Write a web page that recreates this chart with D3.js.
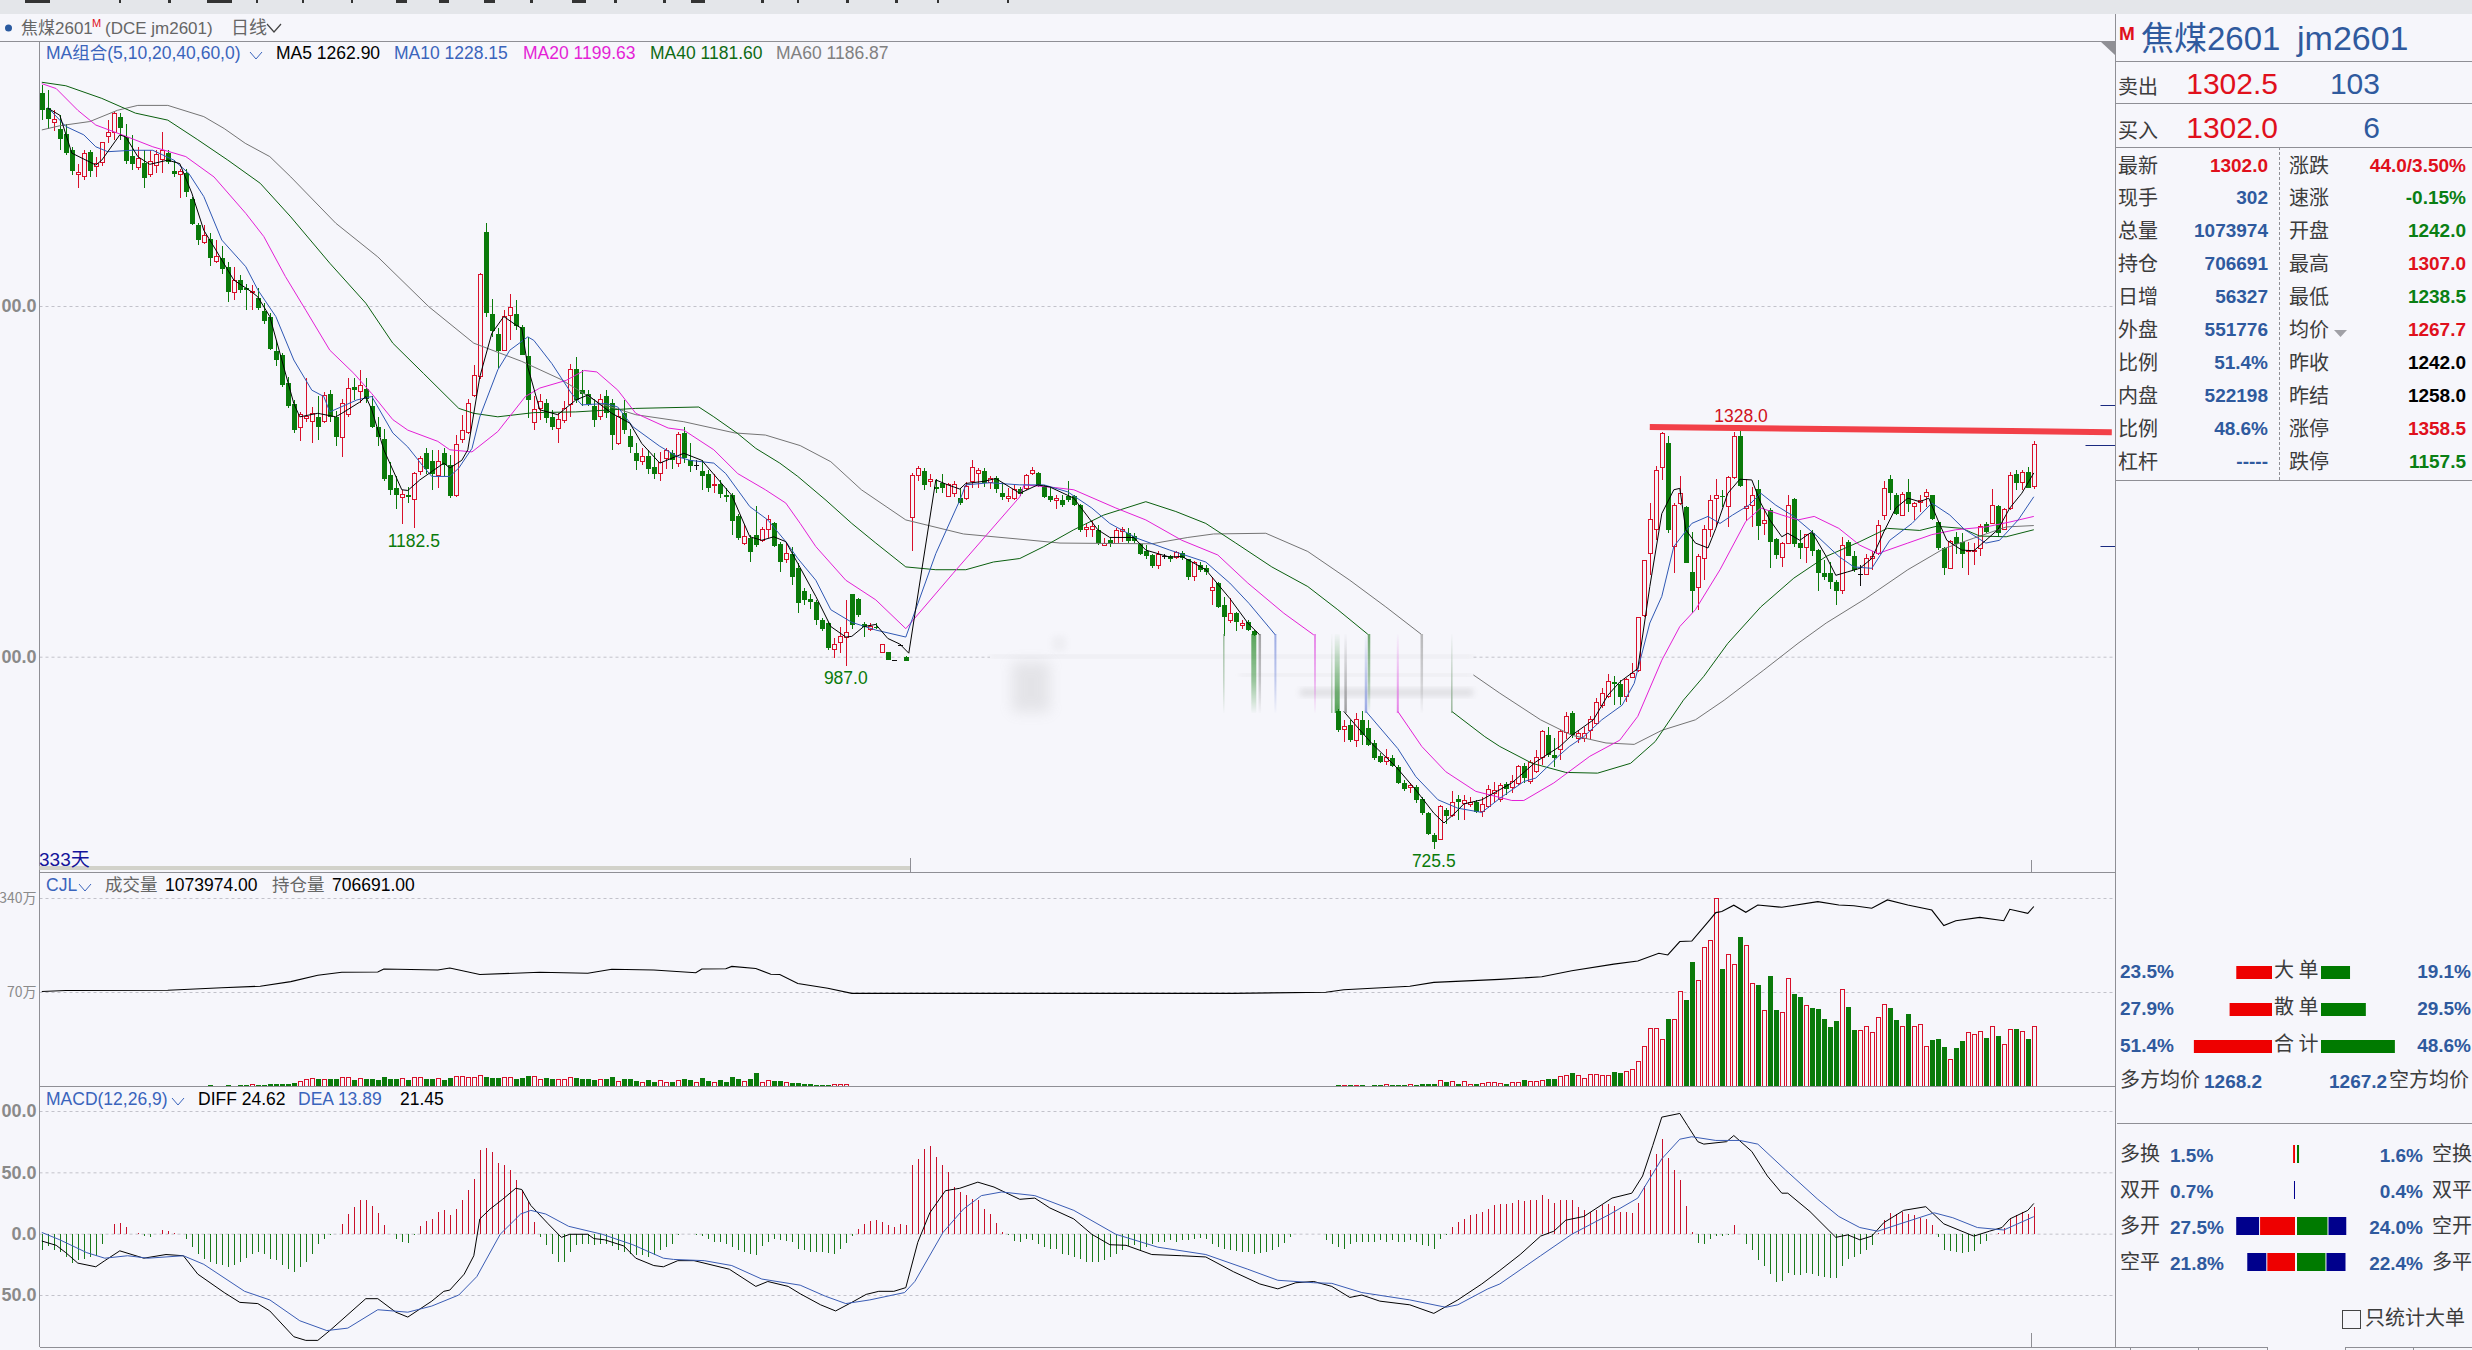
<!DOCTYPE html>
<html lang="en">
<head>
    <meta charset="utf-8">
    <title>焦煤2601 日线</title>
    <script src="https://d3js.org/d3.v7.min.js"></script>
    <style>
        html, body { margin: 0; padding: 0; background: #f6f6fb; overflow: hidden; }
        svg { display: block; }
        text { font-family: "Liberation Sans", "Noto Sans CJK SC", sans-serif; }
        .cjk { font-family: "Noto Sans CJK SC", sans-serif; fill: #3c3c3c; font-size: 20px; }
        .num { font-weight: bold; font-size: 19px; }
        .tick line { stroke: #c2c2ca; stroke-dasharray: 3,3; }
        .tick text { fill: #8a8a8a; font-size: 18px; font-weight: bold; }
        .vol-axis .tick text { font-size: 14px; font-weight: normal; font-family: "Noto Sans CJK SC", sans-serif; }
    </style>
</head>
<body>
    <svg id="chart" width="2472" height="1350"></svg>
    <script>
        // Candles: [open, high, low, close]. Two runs, the blurred part has none.
        const ohlcA = [
            [1803,1815,1765,1779],[1783,1808,1753,1767],[1761,1780,1749,1766],[1753,1772,1722,1738],[1745,1760,1715,1718],
            [1723,1727,1687,1693],[1687,1703,1668,1691],[1684,1722,1680,1718],[1719,1722,1684,1692],[1699,1713,1684,1703],
            [1704,1734,1699,1733],[1742,1765,1732,1748],[1748,1777,1737,1775],[1769,1775,1737,1754],[1741,1760,1703,1707],
            [1714,1744,1694,1703],[1697,1727,1694,1710],[1704,1722,1668,1682],[1687,1722,1684,1706],[1701,1722,1689,1716],
            [1709,1748,1689,1722],[1718,1722,1703,1706],[1692,1708,1684,1688],[1688,1696,1654,1692],[1689,1696,1656,1662],
            [1653,1656,1615,1617],[1615,1618,1587,1594],[1591,1616,1589,1600],[1595,1604,1557,1569],[1563,1594,1561,1570],
            [1569,1585,1546,1553],[1555,1563,1506,1520],[1519,1556,1509,1536],[1537,1544,1518,1523],[1525,1532,1494,1523],
            [1519,1530,1494,1521],[1512,1525,1494,1497],[1493,1504,1475,1479],[1484,1490,1437,1439],[1436,1451,1414,1423],
            [1430,1433,1385,1388],[1390,1399,1354,1358],[1360,1366,1319,1323],[1327,1349,1307,1345],[1340,1397,1335,1343],
            [1336,1356,1304,1347],[1342,1371,1309,1327],[1335,1378,1333,1373],[1375,1380,1335,1342],[1342,1351,1300,1313],
            [1313,1368,1285,1361],[1345,1397,1342,1383],[1384,1397,1366,1380],[1378,1409,1361,1386],[1381,1397,1361,1368],
            [1357,1371,1326,1327],[1327,1342,1300,1313],[1310,1325,1250,1254],[1259,1278,1230,1238],[1241,1257,1210,1230],
            [1227,1238,1189,1231],[1230,1242,1219,1227],[1224,1264,1183,1261],[1264,1286,1259,1283],[1290,1297,1261,1267],
            [1279,1295,1238,1261],[1259,1294,1240,1278],[1291,1297,1257,1273],[1274,1288,1226,1229],[1230,1316,1228,1303],
            [1309,1345,1305,1323],[1320,1368,1318,1361],[1372,1416,1370,1401],[1400,1547,1396,1545],[1605,1619,1485,1490],
            [1489,1510,1456,1465],[1460,1468,1411,1436],[1436,1494,1436,1485],[1487,1517,1451,1498],[1489,1508,1466,1471],
            [1470,1473,1430,1430],[1429,1456,1340,1366],[1334,1371,1323,1352],[1354,1375,1337,1364],[1362,1368,1333,1340],
            [1342,1352,1323,1328],[1326,1347,1304,1338],[1337,1364,1333,1354],[1360,1417,1342,1410],[1410,1427,1361,1366],
            [1380,1409,1358,1375],[1374,1380,1357,1360],[1357,1368,1328,1337],[1342,1375,1337,1366],[1371,1380,1340,1347],
            [1361,1368,1295,1316],[1304,1354,1302,1342],[1348,1366,1318,1323],[1314,1325,1290,1299],[1290,1304,1266,1279],
            [1279,1297,1273,1285],[1286,1295,1261,1267],[1270,1290,1254,1260],[1261,1292,1251,1277],[1283,1297,1268,1294],
            [1291,1294,1268,1281],[1276,1321,1271,1317],[1319,1328,1276,1283],[1281,1304,1264,1272],[1273,1280,1266,1273],
            [1265,1280,1238,1258],[1261,1266,1235,1240],[1244,1261,1233,1246],[1246,1252,1226,1232],[1231,1240,1221,1227],
            [1230,1233,1173,1194],[1200,1204,1166,1169],[1161,1188,1159,1171],[1169,1173,1135,1149],[1173,1215,1157,1159],
            [1166,1185,1164,1181],[1181,1202,1169,1195],[1190,1192,1157,1158],[1161,1164,1121,1135],[1139,1164,1133,1147],
            [1146,1157,1102,1114],[1126,1133,1062,1077],[1094,1098,1074,1081],[1082,1090,1068,1078],[1078,1081,1045,1052],
            [1053,1055,1036,1040],[1048,1050,1010,1012],[1010,1026,998,1017],[1020,1043,1005,1029],[1027,1081,987,1035],
            [1090,1090,1040,1045],[1082,1083,1057,1059],[1046,1050,1028,1043],[1039,1048,1036,1043],[1043,1048,1039,1041],
            [1006,1018,1006,1018],[1006,1007,995,996],[995,995.5,994.5,995],[1017,1017.5,1016.5,1017],[1000,1001,994,994],
            [1199,1262,1150,1259],[1258,1272,1251,1268],[1265,1269,1238,1245],[1250,1261,1242,1253],[1242,1254,1233,1239],
            [1248,1260,1233,1240],[1229,1247,1229,1245],[1233,1250,1228,1246],[1226,1240,1216,1219],[1226,1249,1223,1242],
            [1250,1280,1240,1270],[1261,1269,1240,1265],[1265,1269,1242,1248],[1248,1257,1239,1254],[1255,1257,1233,1239],
            [1234,1247,1223,1227],[1225,1240,1221,1229],[1225,1245,1223,1239],[1239,1242,1229,1232],[1240,1261,1238,1258],
            [1261,1270,1259,1266],[1262,1264,1242,1243],[1243,1245,1226,1228],[1229,1240,1221,1223],[1223,1230,1210,1226],
            [1224,1230,1214,1216],[1229,1250,1221,1223],[1229,1231,1215,1216],[1216,1218,1178,1181],[1181,1190,1171,1184],
            [1182,1193,1171,1185],[1181,1188,1159,1162],[1159,1169,1158,1161],[1166,1169,1156,1162],[1162,1183,1161,1180],
            [1178,1185,1164,1182],[1177,1183,1162,1165],[1172,1176,1162,1165],[1161,1162,1145,1146],[1151,1159,1140,1143],
            [1145,1147,1127,1130],[1130,1150,1125,1145],[1143,1147,1139,1143],[1143,1145,1135,1140],[1142,1150,1140,1148],
            [1148,1150,1138,1141],[1139,1140,1109,1114],[1114,1137,1108,1134],[1131,1135,1121,1124],[1127,1131,1116,1121],
            [1094,1114,1074,1099],[1105,1107,1069,1071],[1074,1085,1029,1057],[1051,1083,1048,1062],[1062,1064,1036,1050],
            [1045,1052,1039,1047],[1049,1052,1036,1038],[1036,1038,1030,1031]
        ];
        const ohlcB = [
            [922,925,893,895],[896,910,879,901],[903,910,879,881],[881,920,871,911],[910,922,874,888],
            [899,910,873,874],[877,881,853,855],[858,862,849,850],[850,869,846,856],[856,860,843,844],
            [843,846,819,820],[820,824,808,812],[814,820,806,816],[814,817,792,795],[797,800,774,777],
            [777,779,746,747],[746,748,725.5,736],[739,789,738,787],[781,784,762,773],[774,808,772,792],
            [797,803,767,793],[790,803,767,795],[789,800,786,792],[793,796,777,778],[780,800,772,789],
            [786,817,784,811],[805,822,791,809],[796,820,793,816],[818,822,803,812],[814,831,805,822],
            [819,845,817,844],[844,848,820,827],[822,853,819,849],[836,867,834,856],[856,896,846,893],
            [888,900,857,860],[860,884,843,855],[867,896,853,893],[892,921,883,915],[920,922,884,888],
            [884,896,877,891],[884,900,879,891],[895,915,881,911],[905,941,903,934],[930,955,927,947],
            [943,975,941,964],[964,972,931,961],[961,967,931,943],[943,969,936,968],[971,991,969,976],
            [981,1057,978,1056],[1059,1138,1057,1137],[1147,1219,1116,1196],[1181,1272,1166,1265],[1270,1320,1252,1318],
            [1304,1315,1176,1180],[1157,1219,1119,1215],[1218,1258,1216,1233],[1213,1215,1133,1134],[1121,1178,1062,1093],
            [1099,1146,1067,1143],[1140,1188,1109,1182],[1182,1231,1171,1222],[1226,1254,1185,1230],[1229,1238,1214,1227],
            [1214,1257,1185,1256],[1256,1321,1254,1314],[1314,1328,1242,1243],[1212,1254,1193,1214],[1216,1242,1185,1230],
            [1239,1252,1166,1186],[1190,1209,1173,1194],[1209,1212,1126,1163],[1168,1169,1140,1145],[1141,1164,1128,1162],
            [1162,1231,1162,1215],[1225,1226,1157,1160],[1162,1181,1140,1155],[1155,1174,1133,1174],[1177,1181,1143,1151],
            [1152,1154,1094,1119],[1120,1138,1109,1113],[1120,1135,1097,1107],[1106,1109,1074,1094],[1094,1171,1090,1158],
            [1163,1166,1143,1144],[1143,1151,1121,1124],[1118,1131,1101,1118],[1117,1147,1116,1140],[1140,1150,1124,1143],
            [1147,1195,1145,1187],[1201,1250,1195,1240],[1254,1259,1209,1233],[1230,1233,1202,1204],[1202,1235,1200,1231],
            [1235,1253,1207,1218],[1214,1221,1195,1218],[1220,1231,1207,1223],[1229,1239,1214,1234],[1230,1231,1195,1196],
            [1192,1194,1152,1155],[1155,1157,1116,1126],[1126,1167,1125,1164],[1170,1178,1147,1160],[1163,1176,1126,1146],
            [1150,1163,1116,1152],[1150,1162,1131,1152],[1154,1189,1143,1186],[1189,1192,1176,1178],[1190,1239,1189,1215],
            [1215,1216,1171,1177],[1181,1212,1180,1210],[1211,1264,1209,1259],[1261,1266,1238,1248],[1249,1266,1238,1262],
            [1264,1271,1240,1241],[1242,1307,1238.5,1302]
        ];
        const ohlcStartA = 0, ohlcStartB = 216;

        // Moving averages, [bar, price] knots, null is the break at the blurred part
        const ma5 = [[1,1782],[3,1772],[5,1718],[9,1701],[10,1708],[13,1744],[14,1741],[16,1713],[18,1702],[21,1708],[23,1703],[25,1661],[27,1608],[29,1580],[32,1537],[35,1520],[36,1513],[38,1485],[40,1423],[42,1361],[43,1342],[46,1347],[49,1342],[50,1347],[53,1363],[54,1371],[55,1352],[57,1295],[58,1276],[60,1238],[61,1237],[63,1252],[65,1264],[67,1276],[68,1269],[70,1280],[71,1295],[73,1399],[75,1461],[77,1485],[79,1473],[80,1468],[81,1413],[83,1352],[86,1345],[89,1366],[91,1373],[95,1347],[98,1333],[100,1304],[103,1276],[107,1290],[110,1280],[115,1230],[118,1171],[120,1166],[122,1171],[124,1164],[126,1133],[129,1086],[131.5,1043],[134,1028],[135,1029],[137,1043],[139,1046],[141,1026],[143,1018],[144.5,1005],[149,1252],[151,1245],[153,1239],[154,1247],[157,1250],[159,1254],[163,1233],[166,1245],[168,1242],[172,1226],[176,1181],[178,1170],[182,1170],[184,1152],[188,1142],[190,1143],[194,1124],[198,1083],[201,1048],[203,1031],null,[217,922],[218.7,905],[221.7,876],[225.7,843],[229,810],[232,777],[233.7,763],[235.5,777],[237,790],[240,796],[245,820],[249,850],[253,872],[255,888],[258.6,910],[261,945],[263,964],[266,983],[268,1100],[270,1204],[272,1238],[273,1240],[274,1181],[275.6,1162],[277.7,1155],[279,1183],[281,1233],[283,1253],[285,1252],[286.5,1219],[288,1195],[290,1171],[291,1176],[293,1166],[295,1178],[297.4,1143],[299,1116],[301,1121],[303,1126],[305,1140],[307,1178],[309,1212],[311,1226],[313,1221],[314.5,1226],[316,1195],[317.5,1166],[320,1152],[322,1151],[324,1166],[326,1181],[328,1212],[330,1233],[332,1262]];
        const ma10 = [[1,1783],[4,1756],[7,1744],[9,1727],[11,1720],[15,1722],[18.5,1722],[22,1708],[24.5,1689],[27,1656],[30,1594],[34,1556],[36,1523],[39,1485],[42,1423],[45,1380],[47,1371],[48,1349],[52.5,1366],[55,1371],[58.5,1319],[61,1299],[63.6,1271],[65,1257],[68,1257],[69.5,1269],[71.7,1297],[73,1342],[76,1409],[78,1437],[81,1456],[82,1451],[85,1418],[88.3,1375],[90,1359],[94,1361],[96,1356],[98.5,1328],[103,1300],[106,1285],[108,1280],[112,1276],[114,1261],[118,1214],[121,1195],[124,1164],[126,1140],[129,1109],[131.5,1067],[135,1049],[139,1038],[144,1028],[149,1147],[153,1223],[154,1245],[158,1248],[163,1245],[167,1245],[171,1235],[175,1212],[178,1190],[182.5,1169],[188,1152],[194,1135],[198,1105],[201.2,1076],[205.6,1031],null,[220.7,922],[226,869],[229,829],[232.7,796],[236,784],[240,778],[243,798],[247,822],[249,827],[253,860],[254.6,872],[257,886],[260,910],[263.4,931],[265.4,962],[268,1048],[270,1086],[272,1157],[275,1190],[277.7,1200],[279.7,1190],[281.8,1202],[284.5,1216],[286.5,1233],[289,1216],[292,1200],[296,1171],[299.5,1143],[302,1128],[305,1126],[308,1166],[311.7,1190],[315,1219],[318,1202],[320.5,1181],[324,1162],[326.3,1166],[329.4,1195],[332,1228]];
        const ma20 = [[0,1817],[2.4,1810],[6,1779],[9,1758],[13.4,1744],[18.5,1727],[24,1713],[28.7,1684],[34,1632],[37,1599],[40.6,1542],[44,1494],[48,1437],[52,1404],[55,1375],[58.5,1338],[61,1323],[66,1307],[68,1295],[71.7,1292],[76,1321],[80.6,1371],[83,1383],[87.4,1394],[90.4,1408],[92.5,1406],[96,1380],[99,1347],[104.4,1326],[107,1323],[112,1295],[116,1261],[120.6,1238],[124,1219],[126.4,1190],[129,1157],[134,1109],[139,1081],[144,1040],[151.9,1119],[163,1228],[163.7,1245],[169,1241],[172,1238],[179,1212],[184,1195],[190,1166],[196,1145],[201,1105],[207,1062],[212,1031],null,[226,922],[230,872],[234,836],[239,808],[245,795],[247,795],[252,820],[258,858],[263,881],[266,915],[270,995],[273,1043],[275.6,1067],[279.7,1124],[284,1193],[286.5,1212],[290,1202],[292.7,1195],[295.4,1200],[299.5,1183],[303,1159],[306,1147],[311,1162],[315,1174],[319,1181],[324,1185],[328,1192],[332,1200]];
        const ma40 = [[0,1819],[4,1814],[10,1796],[15.6,1775],[21,1765],[26,1737],[31,1708],[36.4,1675],[41.5,1627],[48,1561],[54,1504],[58.5,1447],[63.6,1404],[69.5,1354],[72,1347],[76,1342],[82,1348],[89,1349],[99,1354],[109.5,1356],[112,1342],[116,1318],[119,1297],[123,1276],[126,1257],[130.7,1223],[135,1190],[139,1162],[144,1128],[149,1124],[154,1124],[158.6,1135],[163,1140],[167,1157],[172,1181],[177,1202],[184,1221],[189,1207],[194,1190],[199,1162],[205,1128],[211,1100],[216,1067],[221,1032],null,[235,922],[240.5,886],[243,872],[248.4,848],[254,835],[259.3,834],[264.8,848],[268.9,879],[273.6,938],[277,972],[281,1019],[286.5,1071],[292,1112],[297.4,1143],[303,1164],[307.6,1183],[313,1180],[315.8,1186],[320,1183],[323,1172],[327.4,1171],[332,1181]];
        const ma60 = [[0,1751],[3,1757],[8,1763],[12.6,1779],[16,1786],[21,1786],[27,1770],[30.4,1753],[33.9,1732],[38,1713],[41.5,1684],[49,1618],[56,1570],[64.5,1499],[72,1447],[80,1421],[86.6,1395],[93,1361],[99,1345],[107,1335],[115.5,1319],[120.6,1316],[126.4,1301],[131.5,1278],[136.6,1238],[144,1195],[153.6,1175],[163.7,1167],[169.7,1162],[185,1161],[191,1170],[195.3,1175],[204,1176],[211,1150],[218,1109],[224,1071],[229.9,1032],null,[238.6,974],[243,948],[249.8,910],[255,888],[260.7,877],[265.4,875],[270,895],[275.6,910],[280.4,938],[287,981],[292.7,1019],[297.4,1048],[304,1083],[311,1124],[317,1154],[322,1169],[327.4,1185],[332,1187]];

        // Volume in 10k lots, by bar from the given start
        const volStartA = 28;
        const volumeA = [2,0,0,2,0,2,2,2.4,2.4,2.4,3,3.6,3.6,4.2,6,8,11,13,13,12,12,13,16,15,11,13,13,13,10,16,13,13,13,11,16,15,12,12,13,11,15,18,17,16,16,19,17,15,15,15,16,13,15,18,17,12,15,12,12,12,15,15,12,13,10,12,13,17,9,13,13,8.5,6,10,7,10,7,7,10,13,11,6,15,9,7,11,7,17,13,8.5,12,23,7,10,8.5,8.5,7,6,6,3.6,3,2.4,2.4,2.4,2.4,2.4,2];
        const volStartB = 216;
        const volumeB = [1.8,1.8,1.8,1.8,1.8,0.6,2,2,2,2,2,2.2,2.2,2.4,3,3.6,4.2,10,8,7.3,3.6,7.3,3.6,4.2,5,5.5,5.5,4.2,3.6,5.5,5.5,10.9,8.5,7.3,10.3,13.4,13.4,17,18.2,24.3,18.2,13.4,20,20,18.8,18.2,25.5,23,25.5,29,43.7,71.6,104.4,104.4,85,121.4,119.6,170.6,154.8,223.4,191.2,250.7,263.4,338.7,211.2,238,219.7,269.5,254.3,185,182,136,198.5,136.6,132.3,194.2,165.7,160.2,145,140.2,138.4,122,107.4,118.4,174.2,142,102,99.5,106.8,96,123.2,146.9,140.2,120.2,106.8,131,106.8,110.5,72.2,83.8,85.6,71,48.6,69.2,82,95.9,92.3,97.7,87.4,106.8,91,75.9,101.4,103.8,97.7,85.6,107.4];

        // Open interest line in 10k lots
        const openInterest = [[0,37.2],[4,37.6],[21,37.7],[30,38.7],[36.4,39.3],[41.5,41.1],[46,43.6],[50,44.8],[56,44.9],[57,46.1],[66,45.7],[68,46.5],[73,43.9],[83,44.8],[91,44.4],[95,46],[102,45.7],[109,44.6],[110,46.1],[114,46.2],[115,47.1],[119,46.3],[121.5,44],[123,43.9],[126,40.4],[131,38.5],[135,36.5],[198.6,36.5],[214,36.9],[217,37.9],[228,39.3],[232,40.8],[243,42],[250,43],[255,45.4],[262,48],[266,49.2],[269.5,52.3],[271,51.6],[273,56.9],[275,57.1],[278,65.4],[279,68.3],[280,68.7],[282,71.2],[284,68.4],[286,71.3],[290,70.4],[296,72.6],[299.5,71.3],[302,71],[305,70],[307.6,73.3],[311,71.3],[315,69.3],[317,63.2],[319,65.1],[323,66.4],[327,65.1],[328,69.6],[331,68],[332,70.7]];

        // MACD bars, one per bar
        const macdBars = [-13,-10.3,-13,-15,-19,-24,-21.8,-20.4,-19,-18.5,-8.7,0,8.2,8.7,5.4,0,0.8,-1.6,-2.7,-0.5,2.7,2.2,0.8,0,-4.1,-10.9,-16.9,-20.4,-23.1,-25,-25.8,-27.2,-25.8,-23.1,-19.6,-16.3,-15,-16.3,-20.4,-21.8,-25.8,-28.6,-31.3,-27.2,-23.1,-16.3,-8.2,-4.1,-0.8,0,8.2,16.3,21.8,27.2,27.7,22.3,16.9,6.8,-0.5,-4.1,-6.8,-7.6,-1.4,6,10.3,12.2,17.7,19,15,20.4,27.2,35.4,44.9,68,70.2,66.6,57.7,55.8,51.7,43.5,35.4,25.8,9.5,-2.7,-9.5,-16.3,-23.1,-23.1,-15,-9.5,-8.2,-8.2,-9.5,-8.2,-8.7,-10.3,-13.6,-15,-16.3,-17.7,-17.7,-19,-17.7,-13.6,-10.9,-8.2,-1.1,-0.5,-0.5,-0.8,-2.2,-4.1,-6.8,-6.8,-8.2,-10.9,-13.6,-15,-16.9,-17.7,-10.3,-6.8,-4.1,-5.4,-6,-6.8,-12.2,-13.6,-15,-15,-15,-15.8,-16.9,-12.2,-7.6,-2.2,4.1,7.6,10.3,11.4,9.5,6.8,5.4,7.6,6.8,55.8,61.2,69.4,71.3,62.6,55.8,50.3,38.1,34,31.3,28.6,27.2,20.4,15.8,8.7,1.4,-0.8,-6,-6.8,-4.1,-5.4,-8.2,-10.9,-12.8,-12.2,-16.3,-17.7,-19,-20.4,-23.1,-23.1,-23.1,-21.8,-19,-16.3,-13.1,-10.3,-9.5,-13.6,-10.9,-8.2,-6.8,-6.8,-5.4,-6.8,-4.9,-5.4,-4.1,-3.3,-4.1,-8.2,-10.9,-12.8,-13.6,-14.1,-15,-15,-16.3,-15.8,-15,-13.6,-10.9,-7.6,-2.7,-0.5,-0.5,-0.5,-0.3,-0.3,-5.4,-8.2,-10.9,-12.2,-8.2,-6.8,-6.8,-6.8,-6.8,-5.4,-6.8,-5.4,-6.8,-6.8,-5.4,-6.8,-9.5,-10.3,-12.2,-4.1,-1.4,5.4,9.5,12.2,15,15.8,17.7,20.4,23.1,24.5,23.9,25,27.2,26.7,27.2,27.2,31.3,28.6,25,27.2,27.7,27.2,21.8,19.6,17.7,19,23.1,23.9,22.3,17.7,17.7,16.9,25,38.9,51.7,65.3,77,62,51.7,43.5,22.3,1.1,-7.6,-8.2,-4.1,-2.2,-1.6,-0.8,6.8,-0.5,-8.2,-13.1,-21.8,-26.7,-33.2,-39.4,-38.9,-32.1,-34,-34,-32.1,-33.2,-34.8,-35.4,-36.2,-36.2,-26.7,-20.4,-19,-16.9,-13.1,-9.5,0.8,10.9,16.9,15.8,17.7,15.8,15,13.1,12.2,6.8,-2.7,-13.6,-14.4,-15,-15.8,-15,-14.1,-8.7,-6,-0.5,0.5,4.9,12.2,15,17.7,16.3,21.45];
        const diffLine = [[0,-6],[2.4,-9.5],[4,-15.5],[6,-24],[9,-27],[10.5,-22],[13,-14],[17,-20],[20.7,-17],[23.6,-18],[26,-33],[30.4,-48],[33,-56],[36,-57],[38,-63],[42,-84],[44,-87],[46,-87],[48,-79],[54,-53],[56,-53],[59,-64],[61,-68],[65,-55],[67,-47],[68,-46],[70.4,-33],[72,-18],[73,12],[74.7,20],[76.8,28],[79,37],[80,36],[81.5,23],[84.4,8],[86.6,-3],[88,-0.5],[91,-0.5],[92,-4],[93.8,-5],[97,-10],[99,-20],[102,-26],[103.6,-27],[106,-22],[108.7,-22],[114.6,-29],[119,-43],[121,-39],[124.4,-43],[126.4,-49],[129.8,-58],[132.3,-63],[135,-56],[137.4,-49.5],[139.5,-47],[142,-47],[144,-44],[146,-7],[148,17],[150.6,35],[153,37],[156,42],[158.7,38],[163,28],[165.5,29],[168,21],[172,12],[175,-0.5],[178,-9],[180.7,-9.5],[185,-17],[190,-18],[194,-19],[198.6,-31],[203,-41],[206,-45],[209,-40],[212,-39],[215,-43],[218,-52],[220,-50],[223,-55],[228,-58],[232,-65],[236,-54],[240,-41],[243,-30],[246.4,-17],[249.8,-2],[252,2],[254,11],[257,14],[261.7,29],[265,33],[266.8,47],[268.5,72],[270,95],[273,98],[274.3,88],[276,75],[277,73],[280.8,75],[282,80],[285,67],[287.6,47],[290,33],[291,33],[294.7,18],[299,-3],[301,-1],[303,-5],[305,-2],[307,9],[310.3,19],[314,22],[317,8],[322,-2],[324.6,2],[326.7,5],[328,12],[331,19],[332,24.62]];
        const deaLine = [[0,1],[3,-5],[7.5,-15.5],[10.5,-20],[14.3,-18],[17.7,-20],[23.6,-18],[27,-25],[33.8,-47],[38,-54],[43,-71],[47.5,-79],[51,-77],[56,-62],[61,-64],[65,-59],[69.5,-50],[72.5,-35],[76.4,-0.5],[79.8,16],[81.5,19],[84,16],[87.8,6],[93.4,-0.5],[98.5,-9],[103.6,-20],[105.3,-21],[110.4,-22],[115,-26],[120,-37],[126.4,-42],[130.6,-51],[134,-57],[138,-54],[143.8,-48],[145.5,-39],[150.2,1],[153.6,20],[156.6,31],[160,34],[165.5,31],[172,19],[179,-0.5],[186,-11],[194,-17],[201,-29],[206,-38],[212,-40],[215,-40.5],[220,-48],[228,-54],[234,-60],[236,-58],[241,-45],[243,-41],[249.8,-18],[255,-0.5],[261.4,16],[266,29],[270,61],[273,77],[275,79],[279,76],[283,76],[286,73],[290.6,52],[296,28],[299.5,14],[303,5],[306,2],[309.7,8],[315.4,17],[318.5,13],[322.6,5],[327,3],[332,13.89]];

        // Labels picked out on the candles, hand drawn resistance line, limit price ticks
        const priceNotes = [
            { bar: 62, price: 1182.5, text: "1182.5", up: false },
            { bar: 134, price: 987, text: "987.0", up: false },
            { bar: 232, price: 725.5, text: "725.5", up: false },
            { bar: 283.2, price: 1328, text: "1328.0", up: true }
        ];
        const resistance = [[268, 1327.5], [345, 1320]];
        const limitTicks = [1358.5, 1302, 1157.5];
        const limitTickLen = [15, 30, 15];

        const priceTicks = [1000, 1500];
        const volTicks = [170, 340];
        const volLabels = { "170": "70万", "340": "340万" };
        const macdTicks = [-50, 0, 50, 100];
        const macdLabels = { "-50": "50.0", "0": "0.0", "50": "50.0", "100": "00.0" };

        // Smudged part of the screenshot: vertical streaks left by the hidden lines
        const streaksTop = [[197, "#6f9f6f", 1.5], [202, "#0a7a0a", 5], [203, "#777", 2.5], [205.6, "#6f86d8", 2], [212.2, "#e050e0", 2], [221.2, "#2f7f2f", 2.5], [230, "#999", 2.5]];
        const streaksBottom = [[215, "#7fae7f", 1.5], [215.9, "#0a7a0a", 5], [217.3, "#777", 2.5], [220.7, "#6f86d8", 2.5], [226, "#e050e0", 2], [235, "#6f9a6f", 1.5]];

        const toolbarMarks = [[25,25],[119,2],[168,3],[207,25],[256,2],[302,2],[351,2],[396,11],[439,10],[484,11],[530,3],[572,14],[614,3],[663,3],[691,14],[761,3],[797,2],[846,3],[895,3],[937,2],[1007,2]];

        // Quote panel
        const leftRows = [["最新","1302.0","r"],["现手","302","b"],["总量","1073974","b"],["持仓","706691","b"],["日增","56327","b"],["外盘","551776","b"],["比例","51.4%","b"],["内盘","522198","b"],["比例","48.6%","b"],["杠杆","-----","b"]];
        const rightRows = [["涨跌","44.0/3.50%","r"],["速涨","-0.15%","g"],["开盘","1242.0","g"],["最高","1307.0","r"],["最低","1238.5","g"],["均价","1267.7","r"],["昨收","1242.0","k"],["昨结","1258.0","k"],["涨停","1358.5","r"],["跌停","1157.5","g"]];
        const tone = { r: "#e0101c", g: "#0a7f14", b: "#2f5a9e", k: "#000" };

        const orderLabels = ["大 单", "散 单", "合 计"];
        const buyShare = [23.5, 27.9, 51.4];
        const sellShare = [19.1, 29.5, 48.6];

        const flowLeftLabels = ["多换", "双开", "多开", "空平"];
        const flowRightLabels = ["空换", "双平", "空开", "多平"];
        const flowLeft = [1.5, 0, 27.5, 21.8];
        const flowRight = [1.6, 0, 24.0, 22.4];
        const flowLeftText = [1.5, 0.7, 27.5, 21.8];
        const flowRightText = [1.6, 0.4, 24.0, 22.4];
        const flowNavyLeft = [0, 0.8, 18, 15];
        const flowNavyRight = [0, 0, 14, 15];

        const svg = d3.select("#chart");
        const bg = "#f6f6fb";

        svg.append("rect").attr("width", 2472).attr("height", 1350).attr("fill", bg);

        // Scales
        const x = d3.scaleLinear().domain([0, 332]).range([41.8, 2033.8]);
        const yPrice = d3.scaleLinear().domain([1000, 1500]).range([656.7, 306]);
        const yVol = d3.scaleLinear().domain([0, 340]).range([1086, 898]);
        const yOI = d3.scaleLinear().domain([0, 100]).range([1086, 832.1]);
        const yMacd = d3.scaleLinear().domain([-50, 100]).range([1295, 1111]);

        const left = 39.5, right = 2115.5;

        // Top toolbar strip and header row
        svg.append("rect").attr("width", 2472).attr("height", 14).attr("fill", "#e4e6ea");
        svg.selectAll(".tool").data(toolbarMarks).join("rect")
            .attr("x", d => d[0]).attr("y", 0).attr("width", d => d[1]).attr("height", 3).attr("fill", "#333");

        svg.append("circle").attr("cx", 8.5).attr("cy", 28).attr("r", 3.5).attr("fill", "#2a5aa0");
        const headText = (tx, s, size, fill) => svg.append("text").attr("x", tx).attr("y", 34)
            .attr("font-size", size).attr("fill", fill).attr("font-family", "'Liberation Serif','Noto Sans CJK SC',serif").text(s);
        headText(21, "焦煤2601", 17, "#666");
        headText(92, "M", 11, "#e0101c").attr("y", 27);
        headText(105, "(DCE  jm2601)", 17, "#666");
        headText(231, "日线", 18, "#666");
        svg.append("path").attr("d", "M267 24 L274 32 L281 24").attr("fill", "none").attr("stroke", "#444").attr("stroke-width", 1.2);

        // Grid and axis labels through d3 axes
        const axisPrice = d3.axisLeft(yPrice).tickValues(priceTicks).tickFormat(() => "00.0").tickSize(-(right - left - 3)).tickPadding(3);
        const axisVol = d3.axisLeft(yVol).tickValues(volTicks).tickFormat(d => volLabels[d]).tickSize(-(right - left - 3)).tickPadding(3);
        const axisMacd = d3.axisLeft(yMacd).tickValues(macdTicks).tickFormat(d => macdLabels[d]).tickSize(-(right - left - 3)).tickPadding(3);
        [[axisPrice, "price-axis"], [axisVol, "vol-axis"], [axisMacd, "macd-axis"]].forEach(([a, c]) => {
            const g = svg.append("g").attr("class", c).attr("transform", `translate(${left},0)`).call(a);
            g.select(".domain").remove();
            g.selectAll(".tick line").attr("x1", 0);
        });

        // Candles
        const candles = ohlcA.map((d, k) => ({ i: ohlcStartA + k, o: d[0], h: d[1], l: d[2], c: d[3] }))
            .concat(ohlcB.map((d, k) => ({ i: ohlcStartB + k, o: d[0], h: d[1], l: d[2], c: d[3] })));
        const candleByBar = new Map(candles.map(d => [d.i, d]));

        const red = "#d8102a", green = "#0a7a0a";
        const colorOf = d => d.o === d.c ? "#111" : (d.c > d.o ? red : green);
        const px = d => Math.round(x(d.i));

        const gCandle = svg.append("g").attr("shape-rendering", "crispEdges");
        gCandle.selectAll(".wick").data(candles).join("line")
            .attr("x1", d => px(d) + 0.5).attr("x2", d => px(d) + 0.5)
            .attr("y1", d => yPrice(d.h)).attr("y2", d => yPrice(d.l))
            .attr("stroke", colorOf);
        gCandle.selectAll(".body").data(candles).join("rect")
            .attr("x", d => px(d) - 2 + (d.c > d.o ? 0.5 : 0))
            .attr("y", d => yPrice(Math.max(d.o, d.c)))
            .attr("width", d => d.c > d.o ? 4 : 5)
            .attr("height", d => Math.max(1, Math.abs(yPrice(d.o) - yPrice(d.c))))
            .attr("fill", d => d.c > d.o ? bg : colorOf(d))
            .attr("stroke", d => d.c > d.o ? red : "none");

        // Moving average lines
        const priceLine = d3.line().defined(d => d).x(d => x(d[0])).y(d => yPrice(d[1]));
        const maSeries = [[ma60, "#747474"], [ma40, "#0a5f0e"], [ma20, "#e41fd6"], [ma10, "#2f58b4"], [ma5, "#000"]];
        maSeries.forEach(([pts, col]) => {
            svg.append("path").datum(pts).attr("d", priceLine).attr("fill", "none").attr("stroke", col).attr("stroke-width", 1).attr("stroke-linejoin", "round");
        });

        // Smudge: hide the gridline, then blurred gray bands and streaks
        const defs = svg.append("defs");
        defs.append("filter").attr("id", "soft").attr("x", "-30%").attr("y", "-30%").attr("width", "160%").attr("height", "160%")
            .append("feGaussianBlur").attr("stdDeviation", 3);
        defs.append("filter").attr("id", "softer").attr("x", "-30%").attr("y", "-30%").attr("width", "160%").attr("height", "160%")
            .append("feGaussianBlur").attr("stdDeviation", 7);
        const fadeDown = defs.append("linearGradient").attr("id", "fadeDown").attr("x1", 0).attr("x2", 0).attr("y1", 0).attr("y2", 1);
        fadeDown.append("stop").attr("offset", 0).attr("stop-color", "#fff").attr("stop-opacity", 0.95);
        fadeDown.append("stop").attr("offset", 0.6).attr("stop-color", "#fff").attr("stop-opacity", 0.55);
        fadeDown.append("stop").attr("offset", 1).attr("stop-color", "#fff").attr("stop-opacity", 0.02);
        const fadeUp = defs.append("linearGradient").attr("id", "fadeUp").attr("x1", 0).attr("x2", 0).attr("y1", 0).attr("y2", 1);
        fadeUp.append("stop").attr("offset", 0).attr("stop-color", "#fff").attr("stop-opacity", 0.02);
        fadeUp.append("stop").attr("offset", 0.5).attr("stop-color", "#fff").attr("stop-opacity", 0.55);
        fadeUp.append("stop").attr("offset", 1).attr("stop-color", "#fff").attr("stop-opacity", 1);
        const smudgeTop = 634, smudgeBottom = 713;
        [["maskDown", "fadeDown"], ["maskUp", "fadeUp"]].forEach(([id, grad]) => {
            defs.append("mask").attr("id", id).attr("maskUnits", "userSpaceOnUse")
                .attr("x", 900).attr("y", smudgeTop).attr("width", 700).attr("height", smudgeBottom - smudgeTop)
                .append("rect").attr("x", 900).attr("y", smudgeTop).attr("width", 700).attr("height", smudgeBottom - smudgeTop)
                .attr("fill", `url(#${grad})`);
        });

        svg.append("rect").attr("x", 990).attr("y", 652).attr("width", 483).attr("height", 9).attr("fill", bg);
        const bandRows = [[990, 655, 483, 3, 0.16, "soft"], [1240, 674, 233, 2, 0.24, "soft"], [1300, 689, 173, 7, 0.24, "soft"], [1012, 662, 38, 50, 0.17, "softer"], [1052, 636, 14, 15, 0.07, "soft"]];
        svg.selectAll(".band").data(bandRows).join("rect")
            .attr("x", d => d[0]).attr("y", d => d[1]).attr("width", d => d[2]).attr("height", d => d[3])
            .attr("fill", "#8c8c8c").attr("opacity", d => d[4]).attr("filter", d => `url(#${d[5]})`);
        [[streaksTop, "maskDown"], [streaksBottom, "maskUp"]].forEach(([rows, m]) => {
            const g = svg.append("g").attr("mask", `url(#${m})`);
            g.selectAll("rect").data(rows).join("rect")
                .attr("x", d => x(d[0]) - d[2] / 2).attr("y", smudgeTop)
                .attr("width", d => d[2]).attr("height", smudgeBottom - smudgeTop).attr("fill", d => d[1]).attr("opacity", 0.7);
        });

        // Notes on the price pane
        svg.selectAll(".note").data(priceNotes).join("text")
            .attr("x", d => x(d.bar)).attr("y", d => d.up ? yPrice(d.price) - 5 : yPrice(d.price) + 18)
            .attr("text-anchor", "middle").attr("font-size", 17.5)
            .attr("fill", d => d.up ? "#d01020" : "#0a7a0a").text(d => d.text);

        svg.append("line")
            .attr("x1", x(resistance[0][0])).attr("y1", yPrice(resistance[0][1]))
            .attr("x2", x(resistance[1][0])).attr("y2", yPrice(resistance[1][1]))
            .attr("stroke", "#f24048").attr("stroke-width", 6);

        svg.selectAll(".limit").data(limitTicks).join("line")
            .attr("x1", (d, k) => right - limitTickLen[k]).attr("x2", right)
            .attr("y1", d => Math.round(yPrice(d)) + 0.5).attr("y2", d => Math.round(yPrice(d)) + 0.5)
            .attr("stroke", "#1a2a80");

        // Volume bars
        const volumes = volumeA.map((v, k) => ({ i: volStartA + k, v }))
            .concat(volumeB.map((v, k) => ({ i: volStartB + k, v }))).filter(d => d.v > 0);
        const gVol = svg.append("g").attr("shape-rendering", "crispEdges");
        gVol.selectAll("rect").data(volumes).join("rect")
            .attr("x", d => {
                const c = candleByBar.get(d.i);
                return px(d) - 2 + (c.c >= c.o ? 0.5 : 0);
            })
            .attr("y", d => yVol(d.v))
            .attr("width", d => candleByBar.get(d.i).c >= candleByBar.get(d.i).o ? 4 : 5)
            .attr("height", d => yVol(0) - yVol(d.v))
            .attr("fill", d => candleByBar.get(d.i).c >= candleByBar.get(d.i).o ? bg : green)
            .attr("stroke", d => candleByBar.get(d.i).c >= candleByBar.get(d.i).o ? red : "none");

        const oiLine = d3.line().x(d => x(d[0])).y(d => yOI(d[1]));
        svg.append("path").datum(openInterest).attr("d", oiLine).attr("fill", "none").attr("stroke", "#000").attr("stroke-width", 1.1);

        // MACD
        const gMacd = svg.append("g").attr("shape-rendering", "crispEdges");
        gMacd.selectAll("line").data(macdBars).join("line")
            .attr("x1", (d, k) => Math.round(x(k)) + 0.5).attr("x2", (d, k) => Math.round(x(k)) + 0.5)
            .attr("y1", yMacd(0)).attr("y2", d => yMacd(d))
            .attr("stroke", d => d >= 0 ? "#c8102a" : "#1a7a1a");
        const macdLine = d3.line().x(d => x(d[0])).y(d => yMacd(d[1]));
        svg.append("path").datum(diffLine).attr("d", macdLine).attr("fill", "none").attr("stroke", "#000").attr("stroke-width", 1);
        svg.append("path").datum(deaLine).attr("d", macdLine).attr("fill", "none").attr("stroke", "#3a5cb4").attr("stroke-width", 1);

        // Frame lines
        const hLine = (x1, x2, y, col) => svg.append("line").attr("x1", x1).attr("x2", x2).attr("y1", y).attr("y2", y).attr("stroke", col || "#8f8f95").attr("shape-rendering", "crispEdges");
        const vLine = (xx, y1, y2, col) => svg.append("line").attr("x1", xx).attr("x2", xx).attr("y1", y1).attr("y2", y2).attr("stroke", col || "#8f8f95").attr("shape-rendering", "crispEdges");
        hLine(0, 2115, 41.5);
        hLine(left, right, 872.5);
        hLine(left, right, 1086.5);
        hLine(left, 2267, 1347.5);
        hLine(2345, 2472, 1347.5);
        vLine(left, 41, 1347);
        vLine(right, 14, 1347);
        svg.append("rect").attr("x", left).attr("y", 866).attr("width", 910 - left).attr("height", 4).attr("fill", "#d2d2ca");
        vLine(910.5, 858, 872);
        vLine(2031.5, 860, 872);
        vLine(2031.5, 1333, 1347);
        [2130, 2198, 2267, 2345, 2413].forEach(tx => vLine(tx + 0.5, 1347, 1350));
        svg.append("path").attr("d", "M2100 41 L2115 41 L2115 55 Z").attr("fill", "#8f8f95");

        // Pane legends
        const legend = (tx, ty, s, fill) => svg.append("text").attr("x", tx).attr("y", ty).attr("font-size", 17.5).attr("fill", fill).text(s);
        const chevron = (tx, ty, col) => svg.append("path").attr("d", `M${tx} ${ty} L${tx + 6} ${ty + 7} L${tx + 12} ${ty}`).attr("fill", "none").attr("stroke", col);
        legend(46, 59, "MA组合(5,10,20,40,60,0)", "#3a64bc");
        chevron(250, 52, "#3a64bc");
        legend(276, 59, "MA5 1262.90", "#000");
        legend(394, 59, "MA10 1228.15", "#3a64bc");
        legend(523, 59, "MA20 1199.63", "#e41fd6");
        legend(650, 59, "MA40 1181.60", "#0f6b14");
        legend(776, 59, "MA60 1186.87", "#808080");

        svg.append("text").attr("x", 39).attr("y", 866).attr("font-size", 19).attr("fill", "#14149a").text("333天");

        legend(46, 891, "CJL", "#3a64bc");
        chevron(79, 884, "#3a64bc");
        legend(105, 891, "成交量", "#666");
        legend(165, 891, "1073974.00", "#000");
        legend(272, 891, "持仓量", "#666");
        legend(332, 891, "706691.00", "#000");

        legend(46, 1105, "MACD(12,26,9)", "#3a64bc");
        chevron(172, 1098, "#3a64bc");
        legend(198, 1105, "DIFF 24.62", "#000");
        legend(298, 1105, "DEA 13.89", "#3a64bc");
        legend(400, 1105, "21.45", "#000");

        // Quote panel, top
        svg.append("text").attr("x", 2119).attr("y", 40).attr("font-size", 19).attr("font-weight", "bold").attr("fill", "#e0101c").text("M");
        svg.append("text").attr("x", 2141).attr("y", 50).attr("font-size", 33).attr("fill", "#2f5a9e").text("焦煤2601");
        svg.append("text").attr("x", 2297).attr("y", 50).attr("font-size", 34).attr("fill", "#2f5a9e").text("jm2601");
        hLine(right, 2472, 61.5);
        hLine(right, 2472, 103.5);
        hLine(right, 2472, 147.5);
        hLine(right, 2472, 480.5);
        vLine(2279.5, 147, 480).attr("stroke-dasharray", "3,2");

        const bookRows = [["卖出", "1302.5", "103", 94], ["买入", "1302.0", "6", 138]];
        bookRows.forEach(r => {
            svg.append("text").attr("class", "cjk").attr("x", 2118).attr("y", r[3]).text(r[0]);
            svg.append("text").attr("x", 2278).attr("y", r[3]).attr("text-anchor", "end").attr("font-size", 30).attr("fill", "#e0101c").text(r[1]);
            svg.append("text").attr("x", 2380).attr("y", r[3]).attr("text-anchor", "end").attr("font-size", 30).attr("fill", "#2f5a9e").text(r[2]);
        });

        const rowY = d3.scaleLinear().domain([0, 9]).range([171.5, 468]);
        const quoteCol = (rows, labelX, valueX) => {
            const g = svg.append("g");
            g.selectAll(".lab").data(rows).join("text").attr("class", "cjk")
                .attr("x", labelX).attr("y", (d, k) => rowY(k) + 1).text(d => d[0]);
            g.selectAll(".val").data(rows).join("text").attr("class", "num")
                .attr("x", valueX).attr("y", (d, k) => rowY(k)).attr("text-anchor", "end")
                .attr("fill", d => tone[d[2]]).text(d => d[1]);
        };
        quoteCol(leftRows, 2118, 2268);
        quoteCol(rightRows, 2289, 2466);
        svg.append("path").attr("d", "M2334 330 L2347 330 L2340.5 337 Z").attr("fill", "#a0a0a6");

        // Order split bars
        const shareW = d3.scaleLinear().domain([0, 100]).range([0, 152]);
        const orderY = d3.scaleLinear().domain([0, 2]).range([978, 1052]);
        orderLabels.forEach((lab, k) => {
            const by = orderY(k);
            svg.append("text").attr("class", "num").attr("x", 2120).attr("y", by).attr("fill", tone.b).text(buyShare[k].toFixed(1) + "%");
            svg.append("rect").attr("x", 2272 - shareW(buyShare[k])).attr("y", by - 12).attr("width", shareW(buyShare[k])).attr("height", 13).attr("fill", "#ee0000");
            svg.append("text").attr("class", "cjk").attr("x", 2274).attr("y", by - 1).text(lab);
            svg.append("rect").attr("x", 2321).attr("y", by - 12).attr("width", shareW(sellShare[k])).attr("height", 13).attr("fill", "#007a00");
            svg.append("text").attr("class", "num").attr("x", 2471).attr("y", by).attr("text-anchor", "end").attr("fill", tone.b).text(sellShare[k].toFixed(1) + "%");
        });
        svg.append("text").attr("class", "cjk").attr("x", 2120).attr("y", 1087).text("多方均价");
        svg.append("text").attr("class", "num").attr("x", 2204).attr("y", 1088).attr("fill", tone.b).text("1268.2");
        svg.append("text").attr("class", "num").attr("x", 2329).attr("y", 1088).attr("fill", tone.b).text("1267.2");
        svg.append("text").attr("class", "cjk").attr("x", 2389).attr("y", 1087).text("空方均价");
        hLine(2117, 2472, 1123.5);

        // Position flow bars
        const flowW = d3.scaleLinear().domain([0, 100]).range([0, 127]);
        const flowY = d3.scaleLinear().domain([0, 3]).range([1162, 1270]);
        const navy = "#00008c";
        flowLeftLabels.forEach((lab, k) => {
            const by = flowY(k);
            svg.append("text").attr("class", "cjk").attr("x", 2120).attr("y", by - 1).text(lab);
            svg.append("text").attr("class", "num").attr("x", 2170).attr("y", by).attr("fill", tone.b).text(flowLeftText[k].toFixed(1) + "%");
            svg.append("text").attr("class", "num").attr("x", 2423).attr("y", by).attr("text-anchor", "end").attr("fill", tone.b).text(flowRightText[k].toFixed(1) + "%");
            svg.append("text").attr("class", "cjk").attr("x", 2432).attr("y", by - 1).text(flowRightLabels[k]);

            const rw = flowW(flowLeft[k]), gw = flowW(flowRight[k]);
            const nl = flowW(flowNavyLeft[k]), nr = flowW(flowNavyRight[k]);
            const top = by - 17, h = 18;
            if (rw) svg.append("rect").attr("x", 2295 - rw).attr("y", top).attr("width", rw).attr("height", h).attr("fill", "#ee0000");
            if (gw) svg.append("rect").attr("x", 2297).attr("y", top).attr("width", gw).attr("height", h).attr("fill", "#007a00");
            if (nl) svg.append("rect").attr("x", 2295 - rw - (rw ? 1 : 0) - nl).attr("y", top).attr("width", nl).attr("height", h).attr("fill", navy);
            if (nr) svg.append("rect").attr("x", 2297 + gw + 1).attr("y", top).attr("width", nr).attr("height", h).attr("fill", navy);
        });

        svg.append("rect").attr("x", 2342.5).attr("y", 1310.5).attr("width", 18).attr("height", 18).attr("fill", "none").attr("stroke", "#444");
        svg.append("text").attr("class", "cjk").attr("x", 2365).attr("y", 1325).text("只统计大单");
    </script>
</body>
</html>
